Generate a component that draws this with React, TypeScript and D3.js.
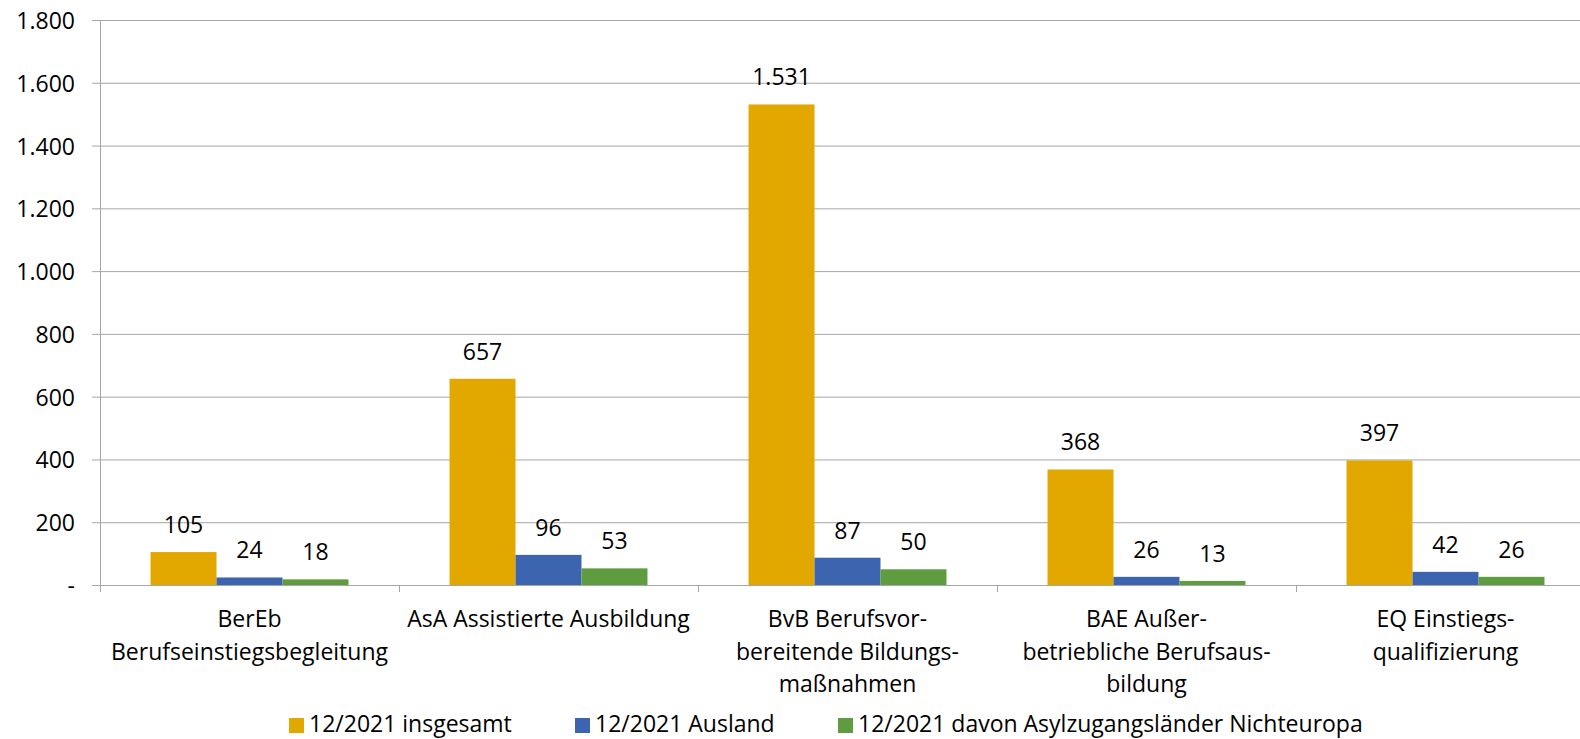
import React from "react";
import * as d3 from "d3";

const categories: string[][] = [
  ["BerEb", "Berufseinstiegsbegleitung"],
  ["AsA Assistierte Ausbildung"],
  ["BvB Berufsvor-", "bereitende Bildungs-", "maßnahmen"],
  ["BAE Außer-", "betriebliche Berufsaus-", "bildung"],
  ["EQ Einstiegs-", "qualifizierung"],
];
const seriesNames = [
  "12/2021 insgesamt",
  "12/2021 Ausland",
  "12/2021 davon Asylzugangsländer Nichteuropa",
];
const insgesamt = [105, 657, 1531, 368, 397];
const ausland = [24, 96, 87, 26, 42];
const asyl = [18, 53, 50, 13, 26];
const yTicks = [0, 200, 400, 600, 800, 1000, 1200, 1400, 1600, 1800];

const colors = ["#E3A800", "#3D64AE", "#5F9B3F"];
const W = 1580;
const H = 739;
const FONT = "'Open Sans', Lato, sans-serif";
const FS = 23;

export default function App() {
  const series = [insgesamt, ausland, asyl];
  const left = 100;
  const bandW = 299;
  const x = d3
    .scaleBand<number>()
    .domain(d3.range(categories.length))
    .range([left, left + bandW * categories.length])
    .paddingInner(0)
    .paddingOuter(0);
  const y = d3.scaleLinear().domain([0, 1800]).range([585, 20]);
  const groupW = x.bandwidth() * 0.662;
  const inner = d3
    .scaleBand<number>()
    .domain([0, 1, 2])
    .range([0, groupW])
    .padding(0);
  const fmt = (v: number) =>
    v === 0 ? "-" : d3.format(",")(v).replace(/,/g, ".");

  const legendX = [289, 575, 838];

  return (
    <svg
      width={W}
      height={H}
      style={{ position: "absolute", left: 0, top: 0, background: "#fff" }}
      fontFamily={FONT}
    >
      {yTicks.map((t) => (
        <g key={t}>
          <line
            x1={92}
            x2={W}
            y1={y(t) + 0.5}
            y2={y(t) + 0.5}
            stroke="#A6A6A6"
            strokeWidth={1}
          />
          <text
            x={75}
            y={y(t)}
            textAnchor="end"
            dominantBaseline="central"
            fontSize={FS}
            fill="#000"
          >
            {fmt(t)}
          </text>
        </g>
      ))}
      <line x1={left + 0.5} x2={left + 0.5} y1={y(1800)} y2={592} stroke="#A6A6A6" />
      {d3.range(categories.length + 1).map((i) => (
        <line
          key={i}
          x1={left + i * bandW + 0.5}
          x2={left + i * bandW + 0.5}
          y1={y(0)}
          y2={592}
          stroke="#A6A6A6"
        />
      ))}
      {series.map((vals, s) =>
        vals.map((v, i) => {
          const bx = (x(i) as number) + (x.bandwidth() - groupW) / 2 + (inner(s) as number);
          const bw = inner.bandwidth();
          return (
            <g key={`${s}-${i}`}>
              <rect
                x={bx}
                y={y(v)}
                width={bw}
                height={y(0) - y(v)}
                fill={colors[s]}
              />
              <text
                x={bx + bw / 2}
                y={y(v) - 19}
                textAnchor="middle"
                fontSize={FS}
                fill="#000"
              >
                {fmt(v)}
              </text>
            </g>
          );
        })
      )}
      {categories.map((lines, i) => (
        <text
          key={i}
          x={(x(i) as number) + x.bandwidth() / 2}
          textAnchor="middle"
          fontSize={FS}
          fill="#000"
        >
          {lines.map((l, j) => (
            <tspan key={j} x={(x(i) as number) + x.bandwidth() / 2} y={627 + j * 32.5}>
              {l}
            </tspan>
          ))}
        </text>
      ))}
      {seriesNames.map((n, s) => (
        <g key={n}>
          <rect x={legendX[s]} y={718} width={15} height={15} fill={colors[s]} />
          <text x={legendX[s] + 20} y={732} fontSize={FS} fill="#000">
            {n}
          </text>
        </g>
      ))}
    </svg>
  );
}
